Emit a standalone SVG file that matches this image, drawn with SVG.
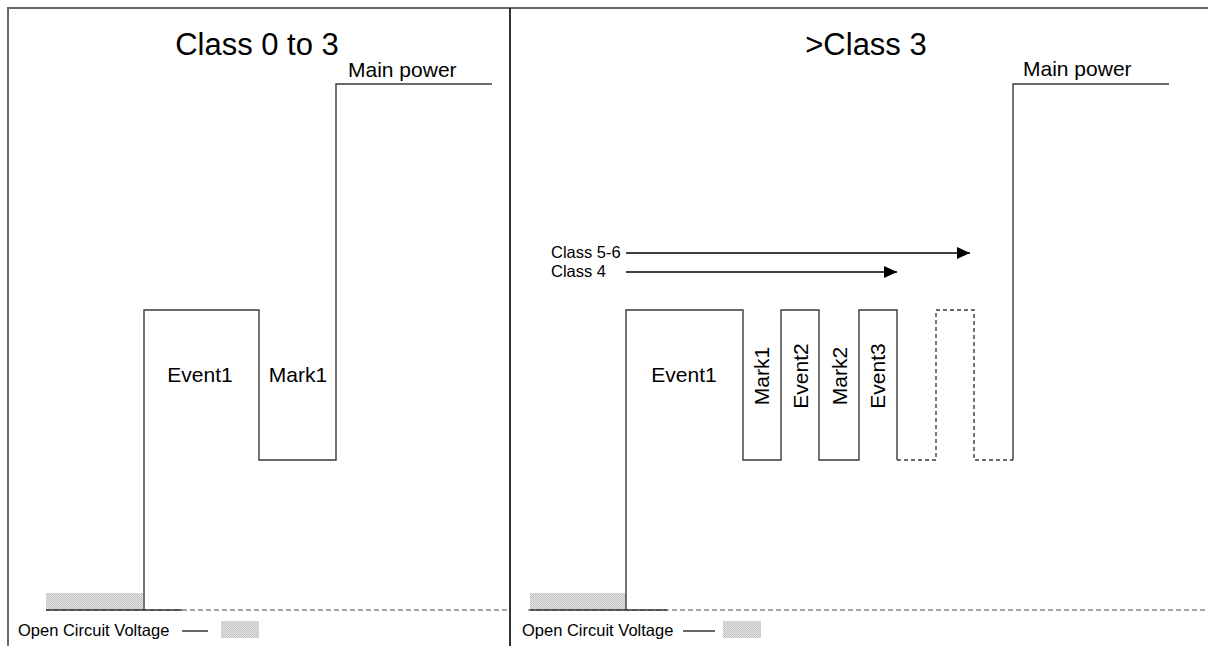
<svg xmlns="http://www.w3.org/2000/svg" width="1208" height="646" viewBox="0 0 1208 646">
<style>
  text { font-family: "Liberation Sans", Arial, sans-serif; fill: #000; }
  .title { font-size: 31px; text-anchor: middle; }
  .lbl { font-size: 21px; }
  .mid { text-anchor: middle; }
  .small { font-size: 16.5px; }
  .wave { fill: none; stroke: #3a3a3a; stroke-width: 1.4; }
  .wdash { fill: none; stroke: #3a3a3a; stroke-width: 1.4; stroke-dasharray: 4,3; }
  .base { fill: none; stroke: #888; stroke-width: 1.6; stroke-dasharray: 5,3; }
  .basesolid { fill: none; stroke: #333; stroke-width: 1.6; }
  .frame { fill: none; stroke: #666; stroke-width: 2; }
  .arrow { stroke: #000; stroke-width: 1.3; marker-end: url(#ah); }
  .ocv { fill: url(#hatch); }
</style>
<defs>
  <pattern id="hatch" width="2" height="2" patternUnits="userSpaceOnUse">
    <rect width="2" height="2" fill="#e2e2e2"/>
    <rect width="1" height="1" fill="#c4c4c4"/>
    <rect x="1" y="1" width="1" height="1" fill="#c4c4c4"/>
  </pattern>
  <marker id="ah" markerWidth="14" markerHeight="12" refX="13" refY="6" orient="auto" markerUnits="userSpaceOnUse">
    <path d="M0,0 L13,6 L0,12 Z" fill="#000"/>
  </marker>
</defs>
<rect width="1208" height="646" fill="#fff"/>
<g id="frame">
  <line x1="7" y1="8" x2="1208" y2="8" class="frame"/>
  <line x1="8" y1="8" x2="8" y2="646" class="frame"/>
  <line x1="510" y1="8" x2="510" y2="646" stroke="#000" stroke-width="1.6"/>
</g>
<g id="left-panel">
  <text x="257" y="55" class="title">Class 0 to 3</text>
  <rect x="46" y="593" width="97" height="17" class="ocv"/>
  <line x1="46" y1="610" x2="510" y2="610" class="base"/>
  <line x1="46" y1="610" x2="182" y2="610" class="basesolid"/>
  <path d="M144,610 V310 H259 V460 H336 V84 H492" class="wave"/>
  <text x="200" y="382" class="lbl mid">Event1</text>
  <text x="298" y="382" class="lbl mid">Mark1</text>
  <text x="348" y="77" class="lbl">Main power</text>
  <g id="legend-left">
    <text x="18" y="636" class="small">Open Circuit Voltage</text>
    <line x1="182" y1="631" x2="208" y2="631" stroke="#000" stroke-width="1.2"/>
    <rect x="221" y="621" width="38" height="17" class="ocv"/>
  </g>
</g>
<g id="right-panel">
  <text x="866" y="55" class="title">&gt;Class 3</text>
  <rect x="530" y="593" width="96" height="17" class="ocv"/>
  <line x1="528" y1="610" x2="1208" y2="610" class="base"/>
  <line x1="530" y1="610" x2="667" y2="610" class="basesolid"/>
  <path d="M626,610 V310 H743 V460 H781 V310 H819 V460 H859 V310 H897 V460" class="wave"/>
  <path d="M897,460 H936 V310 H974 V460 H1013" class="wdash"/>
  <path d="M1013,460 V84 H1169" class="wave"/>
  <text x="684" y="382" class="lbl mid">Event1</text>
  <text transform="translate(769,376) rotate(-90)" class="lbl mid">Mark1</text>
  <text transform="translate(808,376) rotate(-90)" class="lbl mid">Event2</text>
  <text transform="translate(847,376) rotate(-90)" class="lbl mid">Mark2</text>
  <text transform="translate(885,376) rotate(-90)" class="lbl mid">Event3</text>
  <text x="1023" y="76" class="lbl">Main power</text>
  <g id="legend-right">
    <text x="522" y="636" class="small">Open Circuit Voltage</text>
    <line x1="683" y1="631" x2="715" y2="631" stroke="#000" stroke-width="1.2"/>
    <rect x="723" y="621" width="38" height="17" class="ocv"/>
  </g>
</g>
<g id="connectors">
  <text x="551" y="258" class="small">Class 5-6</text>
  <line x1="626" y1="253" x2="970" y2="253" class="arrow"/>
  <text x="551" y="277" class="small">Class 4</text>
  <line x1="626" y1="272" x2="897" y2="272" class="arrow"/>
</g>
</svg>
